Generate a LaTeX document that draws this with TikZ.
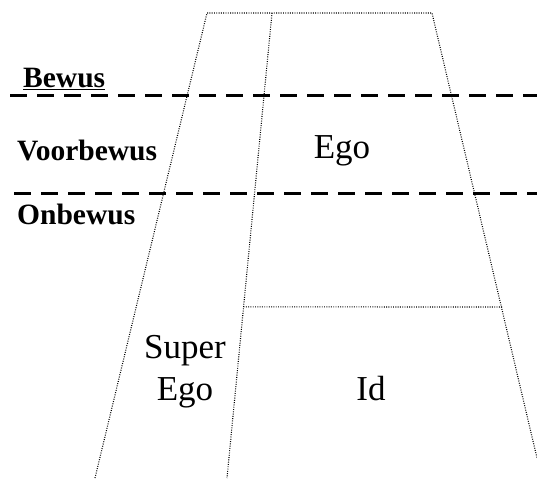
\documentclass[tikz,border=0pt]{standalone}
\usepackage{fontspec}
\setmainfont{Liberation Serif}
\usetikzlibrary{calc}
\begin{document}
\begin{tikzpicture}[x=1pt,y=-1pt,
  wall/.style={line width=1.1pt, dash pattern=on 0.9pt off 1.4pt},
  level/.style={line width=3pt, dash pattern=on 17pt off 10pt},
  layer/.style={font=\fontsize{29.5}{31}\selectfont\bfseries, anchor=base west, inner sep=0pt},
  part/.style={font=\fontsize{35}{37}\selectfont, anchor=base, inner sep=0pt}]
  \useasboundingbox (0,0) rectangle (537,482);
  % outline of the psyche
  \coordinate (tl) at (207,13);
  \coordinate (tm) at (272,13);
  \coordinate (tr) at (432,13);
  \coordinate (bl) at (95,478);
  \coordinate (bm) at (227,478);
  \coordinate (br) at (537,458);
  \coordinate (il) at ($(tm)!0.632!(bm)$);
  \coordinate (ir) at (503,307);
  \draw[wall] (bl) -- (tl) -- (tr) -- (br);
  \draw[wall] (tm) -- (bm);
  \draw[wall] (il) -- (ir);
  % levels of awareness
  \coordinate (b1l) at (10,95);
  \coordinate (b1r) at (537,95);
  \coordinate (b2l) at (14,193);
  \coordinate (b2r) at (537,193);
  \draw[level] (b1l) -- (b1r);
  \draw[level] (b2l) -- (b2r);
  % labels
  \node[layer] (bewus) at (23,87) {\underline{Bewus}};
  \node[layer] (voor) at (17,160) {Voorbewus};
  \node[layer] (onb) at (17,224) {Onbewus};
  \node[part] (ego) at (342,158) {Ego};
  \node[part] (super) at (185,358) {Super};
  \node[part] (sego) at (185,400) {Ego};
  \node[part] (id) at (371,400) {Id};
\end{tikzpicture}
\end{document}
